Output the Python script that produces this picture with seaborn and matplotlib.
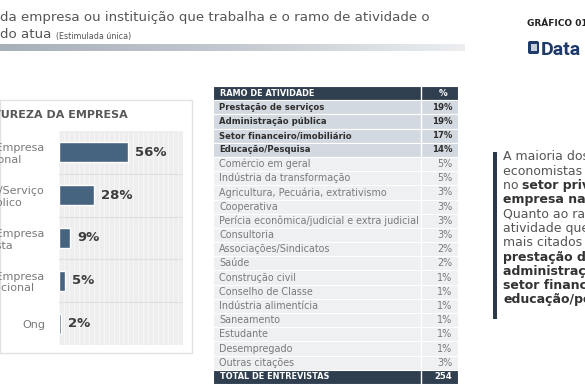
import matplotlib
matplotlib.use('Agg')
import matplotlib.pyplot as plt
import seaborn as sns
import numpy as np
import pandas as pd
from matplotlib.patches import Rectangle, FancyBboxPatch
from matplotlib.colors import LinearSegmentedColormap

# natureza da empresa (bar chart)
natureza_labels = ['Privada/Empresa\nNacional', 'Público/Serviço\nPúblico', 'Pública/Empresa\nMista',
                   'Privada/Empresa\nInternacional', 'Ong']
natureza_values = [56, 28, 9, 5, 2]

# ramo de atividade (table)
ramo_labels = ['Prestação de serviços', 'Administração pública', 'Setor financeiro/imobiliário',
               'Educação/Pesquisa', 'Comércio em geral', 'Indústria da transformação',
               'Agricultura, Pecuária, extrativismo', 'Cooperativa',
               'Perícia econômica/judicial e extra judicial', 'Consultoria', 'Associações/Sindicatos',
               'Saúde', 'Construção civil', 'Conselho de Classe', 'Indústria alimentícia',
               'Saneamento', 'Estudante', 'Desempregado', 'Outras citações']
ramo_values = [19, 19, 17, 14, 5, 5, 3, 3, 3, 3, 2, 2, 1, 1, 1, 1, 1, 1, 3]
ramo_destaque = 4
total_entrevistas = 254

resumo = [
    [('A maioria dos', False)],
    [('economistas atua', False)],
    [('no ', False), ('setor privado/', True)],
    [('empresa nacional', True), ('.', False)],
    [('Quanto ao ramo de', False)],
    [('atividade que atuam,', False)],
    [('mais citados foram', False)],
    [('prestação de serviços,', True)],
    [('administração pública,', True)],
    [('setor financeiro e', True)],
    [('educação/pesquisa', True), ('.', False)],
]

W, H = 585, 390
sns.set_theme(style='white')
plt.rcParams['font.family'] = ['DejaVu Sans']

fig = plt.figure(figsize=(W / 100, H / 100), dpi=100)
fig.patch.set_facecolor('white')


def box(x0, y0, x1, y1):
    return [x0 / W, 1 - y1 / H, (x1 - x0) / W, (y1 - y0) / H]


# background axes in pixel coordinates
bg = fig.add_axes([0, 0, 1, 1])
bg.set_xlim(0, W)
bg.set_ylim(H, 0)
bg.axis('off')

grey = '#555555'
bg.text(0, 17, 'da empresa ou instituição que trabalha e o ramo de atividade o',
        fontsize=9.6, color=grey, va='center')
t2 = bg.text(0, 38, 'do atua ', fontsize=9.6, color=grey, va='baseline')
bg.annotate('(Estimulada única)', xy=(1, 0), xycoords=t2, va='bottom', fontsize=5.8, color=grey)

# gradient line
ax_g = fig.add_axes(box(0, 44, 465, 51))
cmap = LinearSegmentedColormap.from_list('g', ['#a7afb9', '#c3c9d0', '#eceef0'])
ax_g.imshow(np.linspace(0, 1, 256)[None, :], aspect='auto', cmap=cmap)
ax_g.axis('off')

# logo
bg.text(527, 23, 'GRÁFICO 01', fontsize=6.5, fontweight='bold', color='#222222', va='center')
bg.add_patch(FancyBboxPatch((528, 41), 11, 13, boxstyle='round,pad=0,rounding_size=2',
                            facecolor='#1d3a6a', edgecolor='none'))
bg.add_patch(Rectangle((530.5, 44), 6, 7, facecolor='#c9d0d9', edgecolor='none'))
bg.text(541, 55, 'Data', fontsize=14, fontweight='bold', family='Roboto', color='#1d3a6a',
        va='baseline')

# left panel
bg.add_patch(Rectangle((0, 100), 192, 253, facecolor='white', edgecolor='#e2e2e2', lw=1))
bg.text(128, 115, 'NATUREZA DA EMPRESA', ha='right', va='center', fontsize=8,
        fontweight='bold', color='#585858')

ax = fig.add_axes(box(59, 131, 183, 345))
df = pd.DataFrame({'natureza': natureza_labels, 'pct': natureza_values})
sns.barplot(data=df, x='pct', y='natureza', color='#46637f', width=0.47, saturation=1, ax=ax)
ax.set_xlim(0, 100)
ax.set_xlabel('')
ax.set_ylabel('')
ax.set_xticks([])
ax.set_xticks(np.arange(0, 101, 4), minor=True)
ax.grid(True, which='minor', axis='x', color='#f8f8f8', lw=0.6)
ax.tick_params(axis='both', which='both', length=0)
ax.tick_params(axis='y', pad=10, labelsize=8, labelcolor='#7a7a7a')
for t in ax.get_yticklabels():
    t.set_multialignment('center')
ax.set_facecolor('#eeeeee')
for s in ax.spines.values():
    s.set_visible(False)
for y in np.arange(0.5, len(natureza_values) - 0.5):
    ax.axhline(y, color='#e0e0e0', lw=0.8)
ax.set_axisbelow(True)
ax.bar_label(ax.containers[0], fmt='%d%%', padding=5, fontsize=9.5, fontweight='bold',
             color='#3d3d3d')

# table
ax_t = fig.add_axes(box(213, 86, 458, 384))
n = len(ramo_labels) + 2
ax_t.set_xlim(0, 1)
ax_t.set_ylim(n, 0)
ax_t.axis('off')
dark = '#2f3f50'
colors = [dark] + ['#d3d9e0' if i < ramo_destaque else '#eef0f2' for i in range(len(ramo_labels))] + [dark]
ax_t.barh(np.arange(n), 1, height=1, left=0, align='edge', color=colors, edgecolor='white', linewidth=0.8)
ax_t.axvline(0.849, color='white', lw=1)

ax_t.text(0.03, 0.5, 'RAMO DE ATIVIDADE', fontsize=5.9, fontweight='bold', color='white', va='center')
ax_t.text(0.939, 0.5, '%', fontsize=6.3, fontweight='bold', color='white', va='center', ha='center')
for i, (lab, v) in enumerate(zip(ramo_labels, ramo_values)):
    bold = i < ramo_destaque
    c = '#2e2e2e' if bold else '#7a7a7a'
    w = 'bold' if bold else 'normal'
    fs = 6.1 if bold else 6.9
    ax_t.text(0.025, i + 1.5, lab, fontsize=fs, fontweight=w, color=c, va='center')
    ax_t.text(0.976, i + 1.5, f'{v}%', fontsize=fs, fontweight=w, color=c, va='center', ha='right')
ax_t.text(0.03, n - 0.5, 'TOTAL DE ENTREVISTAS', fontsize=5.9, fontweight='bold', color='white', va='center')
ax_t.text(0.939, n - 0.5, str(total_entrevistas), fontsize=6.1, fontweight='bold', color='white',
          va='center', ha='center')

# right text
bg.add_patch(Rectangle((493, 152), 4, 167, facecolor='#2b3a4a', edgecolor='none'))
for k, segs in enumerate(resumo):
    y = 157 + k * 14.3
    prev = None
    for txt, b in segs:
        w = 'bold' if b else 'normal'
        col = '#333333' if b else grey
        if prev is None:
            prev = bg.text(503, y, txt, fontsize=9, fontweight=w, color=col, va='center')
        else:
            prev = bg.annotate(txt, xy=(1, 0), xycoords=prev, va='bottom', fontsize=9,
                               fontweight=w, color=col)

fig.savefig('out.png', dpi=100)
